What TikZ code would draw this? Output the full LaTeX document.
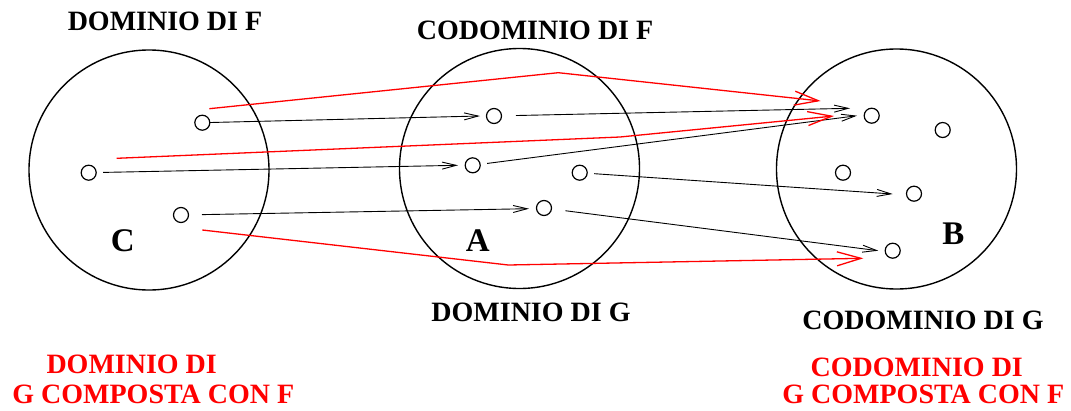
\documentclass[tikz,border=0pt]{standalone}
\usepackage{fontspec}
\setmainfont{Liberation Serif}
\usetikzlibrary{arrows.meta}
\begin{document}
\begin{tikzpicture}[x=1pt,y=-1pt,
  setc/.style={circle,draw,line width=1.4pt,minimum size=240pt,inner sep=0pt,outer sep=0pt},
  pt/.style={circle,draw,line width=1.2pt,minimum size=15pt,inner sep=0pt,outer sep=0pt},
  lbl/.style={font=\fontsize{28}{29}\selectfont\bfseries,anchor=base,inner sep=0pt},
  rlbl/.style={lbl,text=red},
  setname/.style={font=\fontsize{33}{33}\selectfont\bfseries,anchor=base,inner sep=0pt},
  blk/.style={draw=black,line width=0.9pt,-{Straight Barb[length=14pt,width=7pt]}},
  rd/.style={draw=red,line width=1.3pt,-{Straight Barb[length=24pt,width=14pt]}},
]
\useasboundingbox (0,0) rectangle (1071,410);

% sets
\node[setc] (C) at (149,170) {};
\node[setc] (A) at (519.5,168.5) {};
\node[setc] (B) at (896.5,169) {};

% elements
\node[pt] (c1) at (202.3,122.7) {};
\node[pt] (c2) at (88.7,172.7) {};
\node[pt] (c3) at (181,215) {};
\node[pt] (a1) at (494,116) {};
\node[pt] (a2) at (472.7,165.3) {};
\node[pt] (a3) at (579.7,172.7) {};
\node[pt] (a4) at (544,208) {};
\node[pt] (b1) at (871.7,115.7) {};
\node[pt] (b2) at (942.7,130) {};
\node[pt] (b3) at (843,172.7) {};
\node[pt] (b4) at (914,193.7) {};
\node[pt] (b5) at (892.7,250.7) {};

% arrow tip positions
\coordinate (t1) at (480,116);
\coordinate (t2) at (458,165.3);
\coordinate (t3) at (529,208.7);
\coordinate (t4) at (850,108.3);
\coordinate (t5) at (857,115.7);
\coordinate (t6) at (892.7,194);
\coordinate (t7) at (878.3,250.7);

% black arrows (f and g)
\draw[blk] (c1) -- (t1);
\draw[blk,shorten <=7pt] (c2) -- (t2);
\draw[blk,shorten <=13.5pt] (c3) -- (t3);
\draw[blk,shorten <=14.5pt] (a1) -- (t4);
\draw[blk,shorten <=7pt] (a2) -- (t5);
\draw[blk,shorten <=7pt] (a3) -- (t6);
\draw[blk,shorten <=14pt] (a4) -- (t7);

% red arrows (g composed with f)
\coordinate (r1s) at (209.3,108.7);
\coordinate (r1m) at (558.3,72.7);
\coordinate (r1e) at (820.7,101);
\coordinate (r2s) at (116.7,158.3);
\coordinate (r2m) at (620,137);
\coordinate (r2e) at (834,116);
\coordinate (r3s) at (202.3,230);
\coordinate (r3m) at (508.3,265);
\coordinate (r3e) at (863.3,258.3);
\draw[rd] (r1s) -- (r1m) -- (r1e);
\draw[rd] (r2s) -- (r2m) -- (r2e);
\draw[rd] (r3s) -- (r3m) -- (r3e);

% set names
\node[setname] (nC) at (122.7,251.7) {C};
\node[setname] (nA) at (477.7,251.7) {A};
\node[setname] (nB) at (953.3,244) {B};

% labels
\node[lbl] (l1) at (165,30) {DOMINIO DI F};
\node[lbl] (l2) at (535,39.3) {CODOMINIO DI F};
\node[lbl] (l3) at (531,321.7) {DOMINIO DI G};
\node[lbl] (l4) at (923,329) {CODOMINIO DI G};
\node[rlbl] (l5a) at (131.7,373) {DOMINIO DI};
\node[rlbl] (l5b) at (153.3,403) {G COMPOSTA CON F};
\node[rlbl] (l6a) at (916.7,376) {CODOMINIO DI};
\node[rlbl] (l6b) at (923.3,403) {G COMPOSTA CON F};
\end{tikzpicture}
\end{document}
